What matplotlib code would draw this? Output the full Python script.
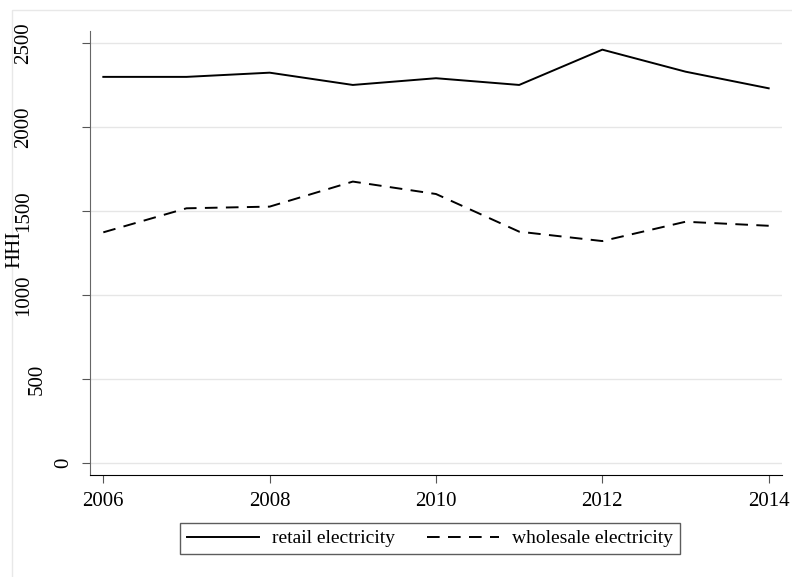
# HHI for retail and wholesale electricity, Stata-like look
import matplotlib.pyplot as plt
import matplotlib.transforms as mtransforms
from matplotlib.patches import Rectangle

years = [2006, 2007, 2008, 2009, 2010, 2011, 2012, 2013, 2014]
retail = [2298, 2298, 2323, 2250, 2290, 2250, 2460, 2329, 2230]
wholesale = [1373, 1516, 1526, 1675, 1601, 1377, 1321, 1436, 1412]

xticks = [2006, 2008, 2010, 2012, 2014]
yticks = [0, 500, 1000, 1500, 2000, 2500]

plt.rcParams['font.family'] = ['Liberation Serif', 'DejaVu Serif']

fig = plt.figure(figsize=(7.92, 5.77), dpi=100)
# light outer frame (top/left edges visible)
fig.patches.append(Rectangle((12 / 792, -0.1), 1.2, 1.1 - 10 / 577,
                             transform=fig.transFigure, fill=False,
                             edgecolor='#e8e8e8', linewidth=1.0))

ax = fig.add_axes([90 / 792, 1 - 475 / 577, 692 / 792, 444 / 577])

ax.plot(years, retail, color='black', lw=1.4, label='retail electricity')
ax.plot(years, wholesale, color='black', lw=1.4, dashes=(6.5, 4.3),
        label='wholesale electricity')

ax.set_xlim(2005.84, 2014.16)
ax.set_ylim(-71, 2571)
ax.set_xticks(xticks)
ax.set_yticks(yticks)
ax.set_yticklabels([str(v) for v in yticks], rotation=90, va='center')

ax.grid(axis='y', color='#e6e6e6', lw=1.0)
ax.set_axisbelow(True)

for pos in ['right', 'top']:
    ax.spines[pos].set_visible(False)
ax.spines['left'].set_color('#666666')
ax.spines['bottom'].set_color('black')

ax.tick_params(axis='both', labelsize=15, length=5.8, color='#555555')
ax.tick_params(axis='y', pad=6.5)
ax.tick_params(axis='x', pad=6.5)

# Stata shifts the rotated labels depending on their length
shift_px = {1: 0, 3: -26, 4: -40}
for lab in ax.get_yticklabels():
    dx = shift_px.get(len(lab.get_text()), 0) / 100
    lab.set_transform(lab.get_transform() +
                      mtransforms.ScaledTranslation(dx, 0, fig.dpi_scale_trans))

fig.text(15 / 792, 1 - 249 / 577, 'HHI', rotation=90, ha='center',
         va='center', fontsize=15)

leg = ax.legend(loc='center', bbox_to_anchor=(430 / 792, 1 - 538.5 / 577),
                bbox_transform=fig.transFigure, ncol=2, fontsize=14,
                frameon=True, fancybox=False, edgecolor='#333333',
                handlelength=3.7, handletextpad=0.7, columnspacing=1.6,
                borderpad=0.35)
leg.get_frame().set_linewidth(1.0)

fig.savefig('out.png', dpi=100)
